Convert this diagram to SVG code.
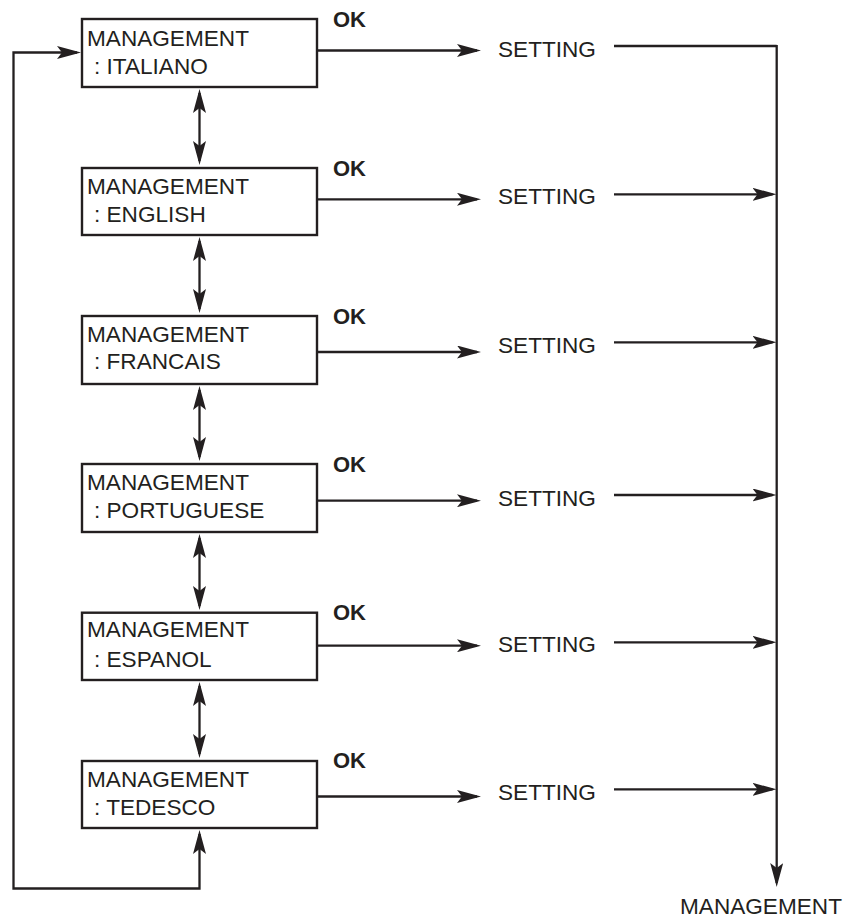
<svg xmlns="http://www.w3.org/2000/svg" width="850" height="921" viewBox="0 0 850 921">
  <style>
    .box { fill: #ffffff; stroke: #231f20; stroke-width: 2.4; }
    .lbl { font-family: "Liberation Sans", Arial, Helvetica, sans-serif; font-size: 22.6px; fill: #231f20; }
    .ok { font-family: "Liberation Sans", Arial, Helvetica, sans-serif; font-size: 22px; font-weight: bold; fill: #231f20; }
    .wire { fill: none; stroke: #231f20; stroke-width: 2.3; }
    .one { marker-end: url(#head); }
    .two { marker-start: url(#head); marker-end: url(#head); }
  </style>
  <defs>
    <marker id="head" viewBox="0 0 24 13" refX="20" refY="6.5" markerWidth="24" markerHeight="13" markerUnits="userSpaceOnUse" orient="auto-start-reverse">
      <path d="M0,0 L24,6.5 L0,13 L5,6.5 Z" fill="#231f20"/>
    </marker>
  </defs>

  <!-- menu entries -->
  <g id="node-italiano">
    <rect class="box" x="82" y="19" width="235" height="68"/>
    <text class="lbl" x="87" y="46">MANAGEMENT</text>
    <text class="lbl" x="94" y="74">: ITALIANO</text>
  </g>
  <g id="node-english">
    <rect class="box" x="82" y="168" width="235" height="67"/>
    <text class="lbl" x="87" y="194">MANAGEMENT</text>
    <text class="lbl" x="94" y="222">: ENGLISH</text>
  </g>
  <g id="node-francais">
    <rect class="box" x="82" y="316" width="235" height="68"/>
    <text class="lbl" x="87" y="341.7">MANAGEMENT</text>
    <text class="lbl" x="94" y="369.3">: FRANCAIS</text>
  </g>
  <g id="node-portuguese">
    <rect class="box" x="82" y="464" width="235" height="68"/>
    <text class="lbl" x="87" y="490">MANAGEMENT</text>
    <text class="lbl" x="94" y="518">: PORTUGUESE</text>
  </g>
  <g id="node-espanol">
    <rect class="box" x="82" y="612.7" width="235" height="67.3"/>
    <text class="lbl" x="87" y="637.3">MANAGEMENT</text>
    <text class="lbl" x="94" y="666.7">: ESPANOL</text>
  </g>
  <g id="node-tedesco">
    <rect class="box" x="82" y="761" width="235" height="67"/>
    <text class="lbl" x="87" y="787.3">MANAGEMENT</text>
    <text class="lbl" x="94" y="815">: TEDESCO</text>
  </g>

  <!-- OK key labels -->
  <g id="ok-labels">
    <text class="ok" x="333" y="27">OK</text>
    <text class="ok" x="333" y="176">OK</text>
    <text class="ok" x="333" y="324">OK</text>
    <text class="ok" x="333" y="472">OK</text>
    <text class="ok" x="333" y="620">OK</text>
    <text class="ok" x="333" y="768">OK</text>
  </g>

  <!-- setting states -->
  <g id="setting-1"><text class="lbl" x="498" y="56.7">SETTING</text></g>
  <g id="setting-2"><text class="lbl" x="498" y="204">SETTING</text></g>
  <g id="setting-3"><text class="lbl" x="498" y="352.7">SETTING</text></g>
  <g id="setting-4"><text class="lbl" x="498" y="505.7">SETTING</text></g>
  <g id="setting-5"><text class="lbl" x="498" y="652.3">SETTING</text></g>
  <g id="setting-6"><text class="lbl" x="498" y="800">SETTING</text></g>

  <!-- exit state -->
  <g id="exit-management"><text class="lbl" x="680" y="914">MANAGEMENT</text></g>

  <!-- connectors -->
  <g id="connectors">
    <!-- OK: entry -> SETTING -->
    <path class="wire one" d="M317,50.5 H477"/>
    <path class="wire one" d="M317,199.3 H477"/>
    <path class="wire one" d="M317,352 H477"/>
    <path class="wire one" d="M317,500.7 H477"/>
    <path class="wire one" d="M317,645.7 H477"/>
    <path class="wire one" d="M317,796.5 H477"/>

    <!-- SETTING -> collector line -->
    <path class="wire" d="M614,46 H776.7"/>
    <path class="wire one" d="M614,194.3 H772.5"/>
    <path class="wire one" d="M614,342.3 H772.5"/>
    <path class="wire one" d="M614,495 H772.5"/>
    <path class="wire one" d="M614,642.3 H772.5"/>
    <path class="wire one" d="M614,789.3 H772.5"/>
    <path class="wire one" d="M776.7,45 V883"/>

    <!-- scrolling between entries -->
    <path class="wire two" d="M199.5,93 V161"/>
    <path class="wire two" d="M199.5,241 V309"/>
    <path class="wire two" d="M199.5,390 V457"/>
    <path class="wire two" d="M199.5,538 V606"/>
    <path class="wire two" d="M199.5,686 V754"/>

    <!-- wrap-around from last entry to first -->
    <path class="wire two" d="M199.5,834 V888.5 H13.5 V52.5 H77"/>
  </g>
</svg>
